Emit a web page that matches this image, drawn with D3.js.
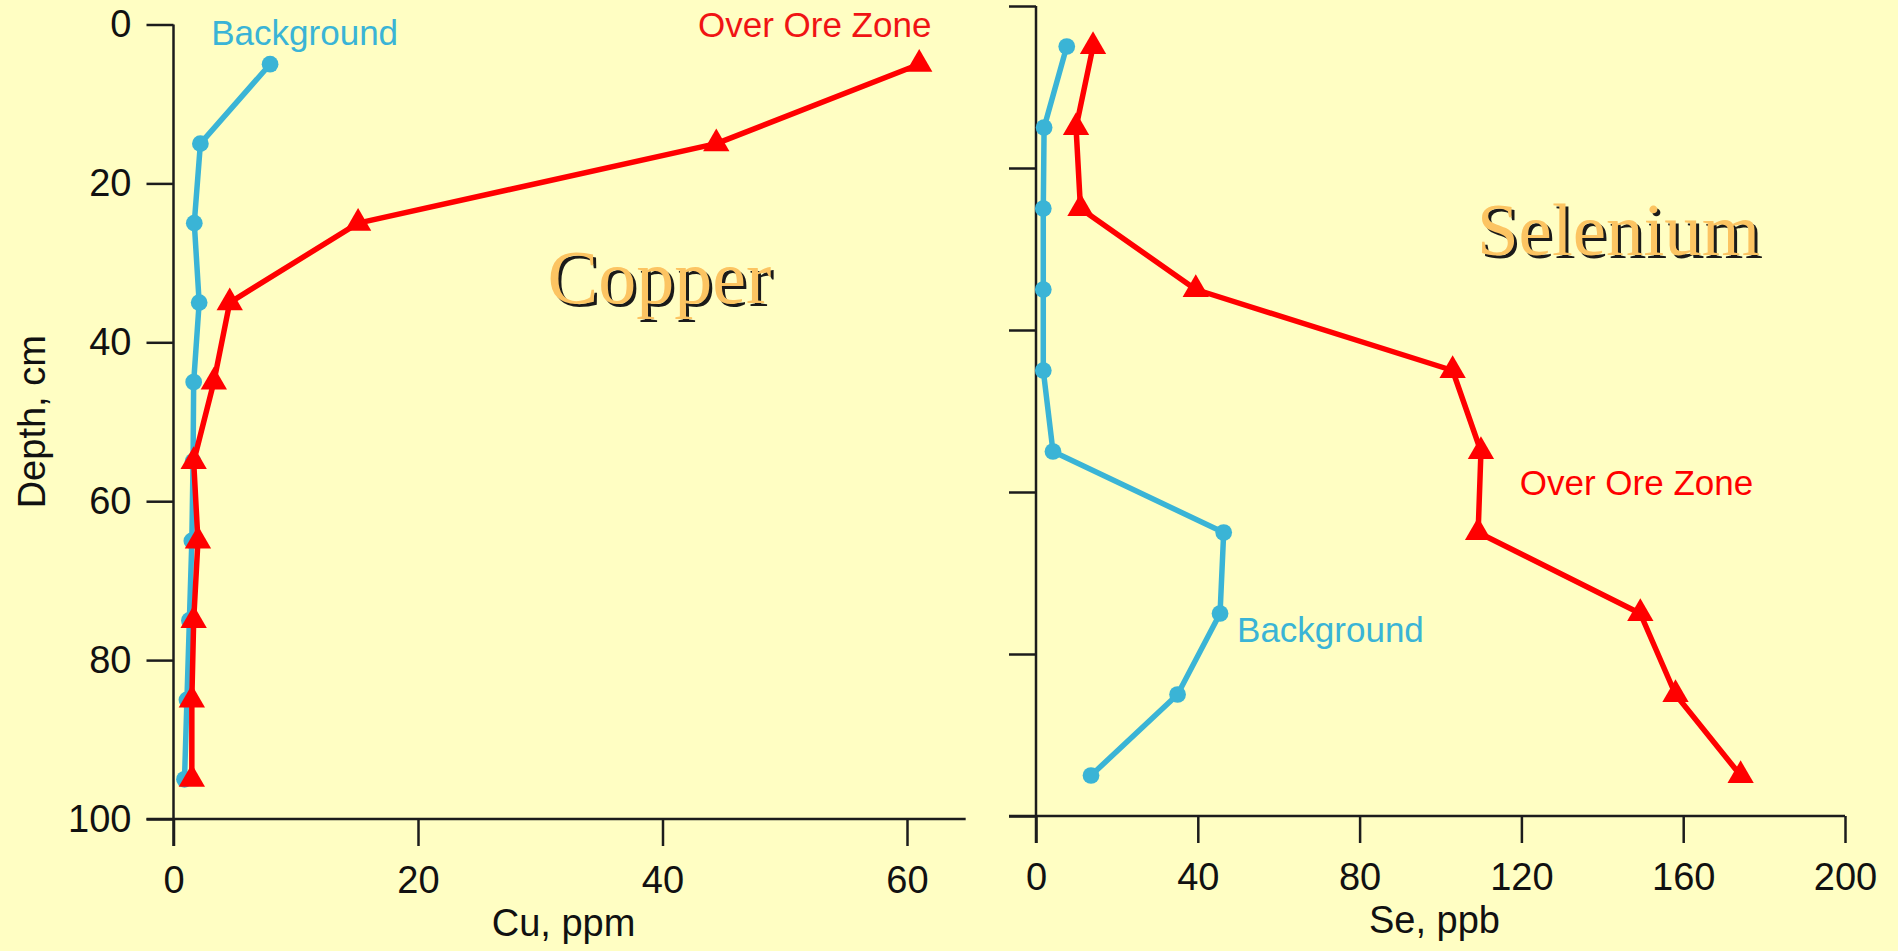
<!DOCTYPE html>
<html lang="en">
<head>
  <meta charset="UTF-8">
  <title>Copper and Selenium depth profiles</title>
  <script src="https://d3js.org/d3.v7.min.js"></script>
  <style>
    body { background: #fffec3; margin: 0; overflow: hidden; }
    svg { display: block; }
    .axis path, .axis line { stroke: #1c1c1c; stroke-width: 2.5; }
    .axis text { font-family: "Liberation Sans", Arial, sans-serif; font-size: 38px; fill: #111; }
    .title-axis { font-family: "Liberation Sans", Arial, sans-serif; font-size: 38px; fill: #111; }
    .series-label { font-family: "Liberation Sans", Arial, sans-serif; font-size: 35px; }
    .big { font-family: "Liberation Serif", "Times New Roman", serif; }
  </style>
</head>
<body>
  <svg width="1898" height="951"></svg>

  <script>
    // depths (cm) shared by both profiles
    const depths = [5, 15, 25, 35, 45, 55, 65, 75, 85, 95];

    // Copper, ppm
    const cuBackground = [7.9, 2.2, 1.7, 2.1, 1.65, 1.6, 1.5, 1.3, 1.1, 0.9];
    const cuOre = [61.0, 44.4, 15.1, 4.6, 3.3, 1.65, 2.0, 1.65, 1.5, 1.5];

    // Selenium, ppb
    const seBackground = [7.6, 2.0, 1.8, 1.8, 1.8, 4.2, 46.4, 45.5, 35.0, 13.6];
    const seOre = [14.1, 9.9, 11.0, 39.5, 103, 110, 109.3, 149.4, 158.1, 174.2];

    const depthTicks = [0, 20, 40, 60, 80, 100];
    const cuTicks = [0, 20, 40, 60];
    const seTicks = [0, 40, 80, 120, 160, 200];

    const blue = "#3ab4d6";
    const red = "#ff0000";
    const tickLen = 27;

    const svg = d3.select("svg");

    // scales
    const xCu = d3.scaleLinear().domain([0, 60]).range([173.5, 907]);
    const yCu = d3.scaleLinear().domain([0, 100]).range([24.5, 819]);
    const xSe = d3.scaleLinear().domain([0, 200]).range([1036, 1845]);
    const ySe = d3.scaleLinear().domain([0, 100]).range([6, 816]);

    function drawPanel(x, y, xMax, xTicks, yLabels, xTitle) {
      const g = svg.append("g").attr("class", "axis");
      const [x0] = x.range();
      const [y0, y1] = y.range();

      // y axis
      const ya = d3.axisLeft(y).tickValues(depthTicks).tickSize(tickLen).tickSizeOuter(0).tickPadding(15);
      if (!yLabels) ya.tickFormat("");
      g.append("g").attr("transform", `translate(${x0},0)`).call(ya)
        .call(s => s.select(".domain").remove());

      // x axis
      const xa = d3.axisBottom(x).tickValues(xTicks).tickSize(tickLen).tickSizeOuter(0).tickPadding(20);
      g.append("g").attr("transform", `translate(0,${y1})`).call(xa)
        .call(s => s.select(".domain").remove());

      // axis lines, crossing at the origin
      g.append("line").attr("x1", x0).attr("x2", x0).attr("y1", y0).attr("y2", y1 + tickLen);
      g.append("line").attr("x1", x0 - tickLen).attr("x2", x(xMax)).attr("y1", y1).attr("y2", y1);

      svg.append("text").attr("class", "title-axis")
        .attr("x", (x0 + x(xMax)) / 2 - 6).attr("y", y1 + 117)
        .attr("text-anchor", "middle").text(xTitle);
    }

    drawPanel(xCu, yCu, 64.8, cuTicks, true, "Cu, ppm");
    drawPanel(xSe, ySe, 200, seTicks, false, "Se, ppb");

    svg.append("text").attr("class", "title-axis")
      .attr("transform", `translate(45,${(yCu(0) + yCu(100)) / 2}) rotate(-90)`)
      .attr("text-anchor", "middle").text("Depth, cm");

    function drawSeries(x, y, values, color, shape) {
      const pts = values.map((v, i) => [x(v), y(depths[i])]);
      svg.append("path")
        .attr("d", d3.line()(pts))
        .attr("fill", "none")
        .attr("stroke", color)
        .attr("stroke-width", 5.5)
        .attr("stroke-linejoin", "round");
      const sym = d3.symbol().type(shape).size(shape === d3.symbolCircle ? 220 : 300);
      svg.append("g").selectAll("path")
        .data(pts)
        .join("path")
        .attr("d", sym)
        .attr("transform", d => `translate(${d[0]},${d[1]})`)
        .attr("fill", color);
    }

    drawSeries(xCu, yCu, cuBackground, blue, d3.symbolCircle);
    drawSeries(xCu, yCu, cuOre, red, d3.symbolTriangle);
    drawSeries(xSe, ySe, seBackground, blue, d3.symbolCircle);
    drawSeries(xSe, ySe, seOre, red, d3.symbolTriangle);

    // series labels
    const labels = [
      { text: "Background", x: xCu(3.09), y: yCu(2.6), color: blue },
      { text: "Over Ore Zone", x: xCu(42.9), y: yCu(1.6), color: "#f01414" },
      { text: "Over Ore Zone", x: xSe(119.6), y: ySe(60.4), color: red },
      { text: "Background", x: xSe(49.7), y: ySe(78.5), color: blue }
    ];
    svg.append("g").selectAll("text")
      .data(labels)
      .join("text")
      .attr("class", "series-label")
      .attr("x", d => d.x).attr("y", d => d.y)
      .attr("fill", d => d.color)
      .text(d => d.text);

    // element titles with drop shadow
    function bigTitle(text, x, y, size) {
      const g = svg.append("g").attr("class", "big").style("font-size", size + "px");
      g.append("text").attr("x", x + 3).attr("y", y + 3).attr("fill", "#1a1a1a").text(text);
      g.append("text").attr("x", x).attr("y", y).attr("fill", "#fcc462").text(text);
    }
    bigTitle("Copper", xCu(30.6), yCu(35), 76);
    bigTitle("Selenium", xSe(109), ySe(30.7), 75);
  </script>
</body>
</html>
